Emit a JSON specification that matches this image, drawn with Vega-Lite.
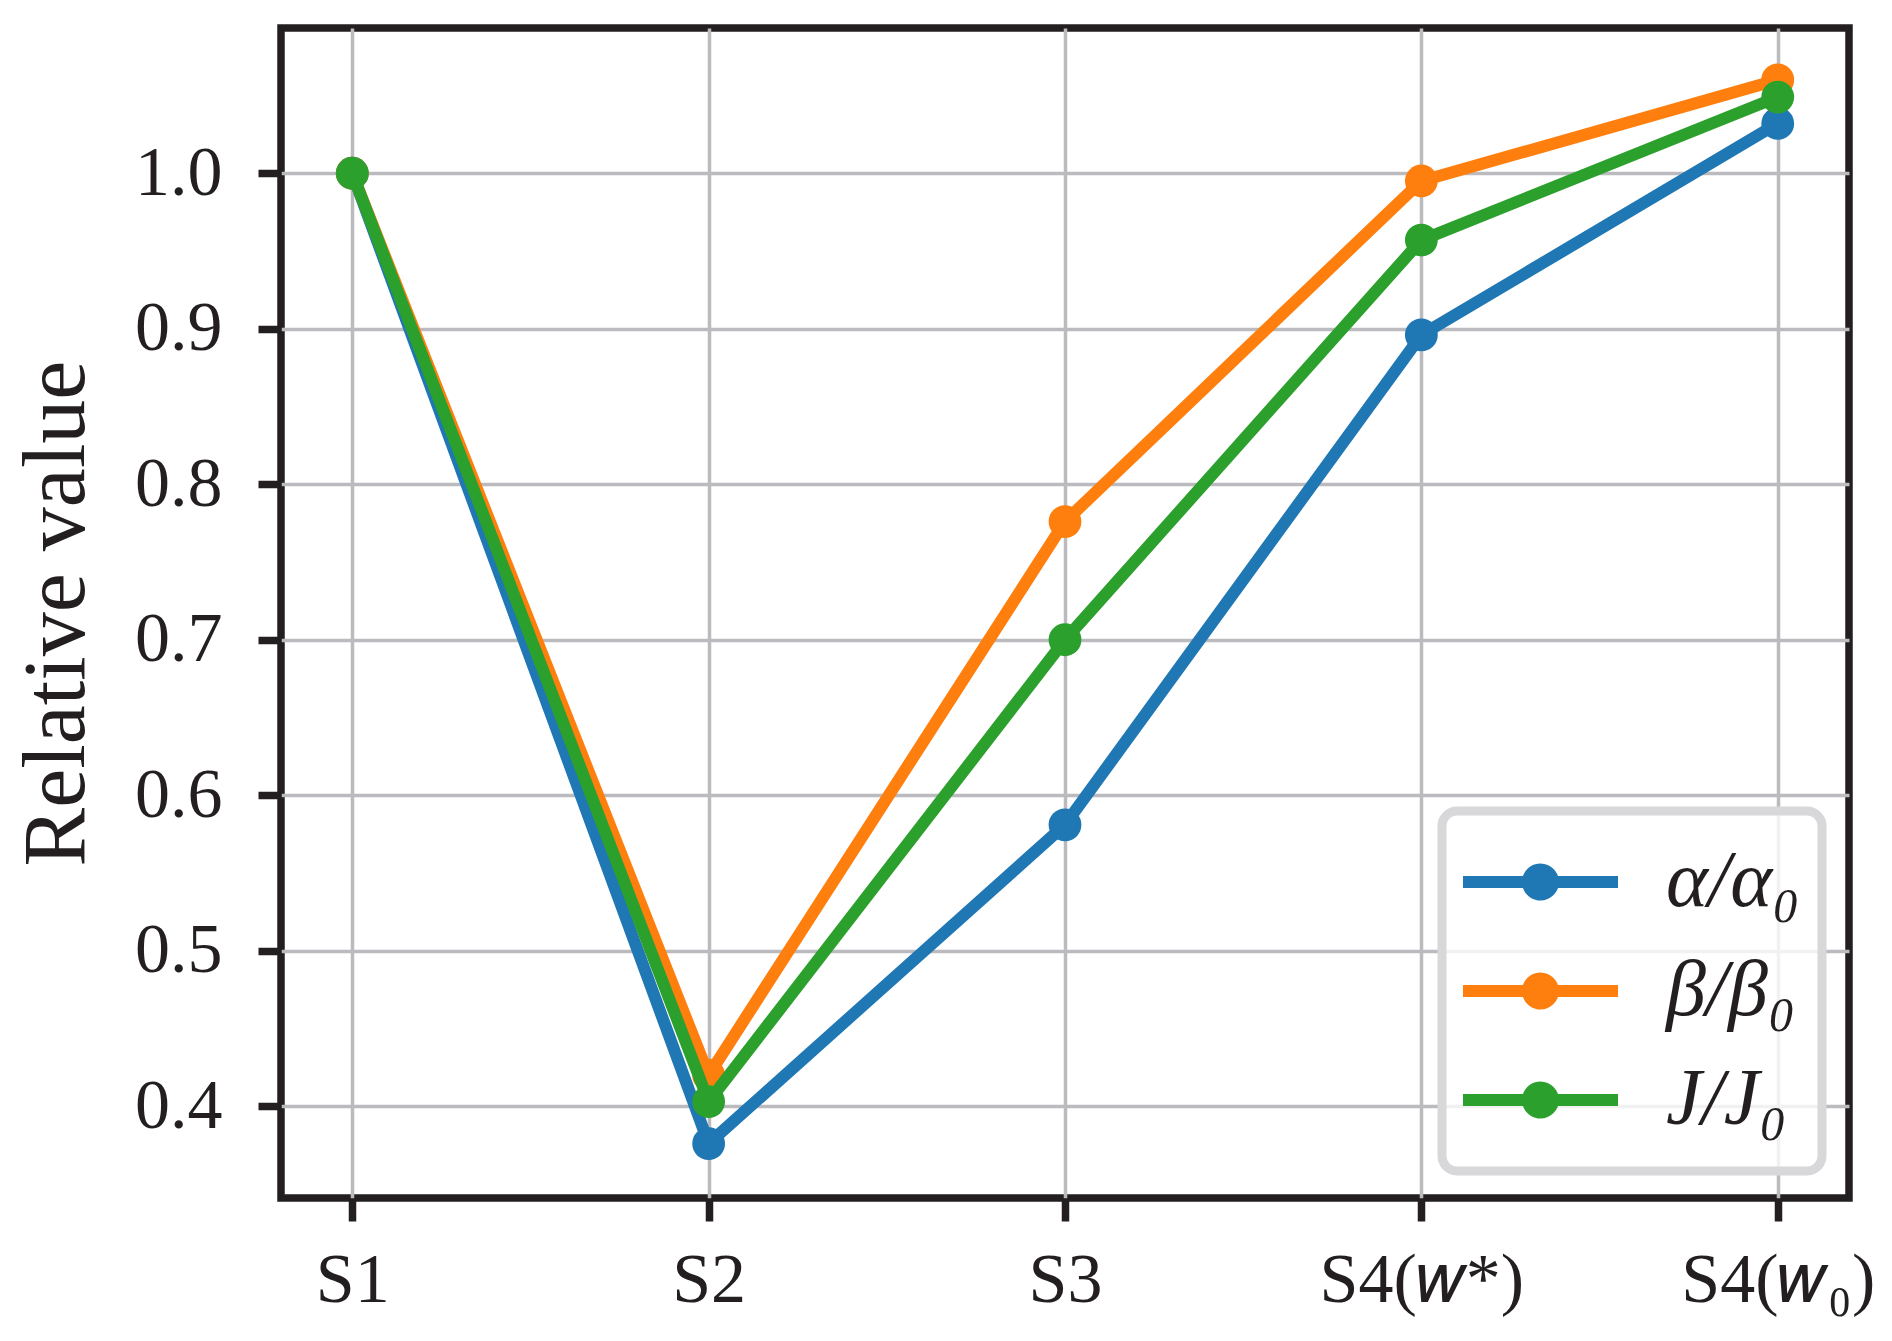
{
  "$schema": "https://vega.github.io/schema/vega-lite/v6.json",
  "width": 1568,
  "height": 1170,
  "autosize": {"type": "none"},
  "padding": {"left": 281, "top": 28, "right": 43, "bottom": 143},
  "background": "white",
  "config": {
    "view": {"stroke": "#231f20", "strokeWidth": 7.5},
    "font": "Liberation Serif",
    "axis": {
      "domain": false,
      "grid": true,
      "gridColor": "#bbbbbf",
      "gridWidth": 3.5,
      "ticks": true,
      "tickColor": "#231f20",
      "tickWidth": 7.5,
      "tickSize": 23,
      "labelFont": "Liberation Serif",
      "labelFontSize": 70,
      "labelColor": "#231f20",
      "titleFont": "Liberation Serif",
      "titleColor": "#231f20",
      "titleFontWeight": "normal"
    }
  },
  "data": {
    "values": [
      {"stage": "S1", "series": "α/α₀", "value": 1.0},
      {"stage": "S2", "series": "α/α₀", "value": 0.376},
      {"stage": "S3", "series": "α/α₀", "value": 0.581},
      {"stage": "S4(𝑤*)", "series": "α/α₀", "value": 0.896},
      {"stage": "S4(𝑤₀)", "series": "α/α₀", "value": 1.032},
      {"stage": "S1", "series": "β/β₀", "value": 1.0},
      {"stage": "S2", "series": "β/β₀", "value": 0.42},
      {"stage": "S3", "series": "β/β₀", "value": 0.776},
      {"stage": "S4(𝑤*)", "series": "β/β₀", "value": 0.995},
      {"stage": "S4(𝑤₀)", "series": "β/β₀", "value": 1.06},
      {"stage": "S1", "series": "J/J₀", "value": 1.0},
      {"stage": "S2", "series": "J/J₀", "value": 0.403},
      {"stage": "S3", "series": "J/J₀", "value": 0.7},
      {"stage": "S4(𝑤*)", "series": "J/J₀", "value": 0.957},
      {"stage": "S4(𝑤₀)", "series": "J/J₀", "value": 1.049}
    ]
  },
  "encoding": {
    "x": {
      "field": "stage",
      "type": "nominal",
      "sort": ["S1", "S2", "S3", "S4(𝑤*)", "S4(𝑤₀)"],
      "scale": {"type": "point", "padding": 0.2},
      "axis": {"title": null, "labelAngle": 0, "labelPadding": 25, "labelOverlap": false, "labelLimit": 400}
    },
    "y": {
      "field": "value",
      "type": "quantitative",
      "scale": {"domain": [0.341, 1.0934], "nice": false, "zero": false},
      "axis": {
        "title": "Relative value",
        "titleFontSize": 88,
        "titlePadding": 33,
        "values": [0.4, 0.5, 0.6, 0.7, 0.8, 0.9, 1.0],
        "format": ".1f",
        "labelPadding": 36
      }
    },
    "color": {
      "field": "series",
      "type": "nominal",
      "scale": {"domain": ["α/α₀", "β/β₀", "J/J₀"], "range": ["#1f77b4", "#ff7f0e", "#2ca02c"]},
      "legend": {
        "title": null,
        "orient": "bottom-right",
        "offset": 27,
        "padding": 21,
        "fillColor": "rgba(255,255,255,0.8)",
        "strokeColor": "#d8d8da",
        "cornerRadius": 15,
        "symbolType": "M -1 -0.077 L 1 -0.077 L 1 0.077 L -1 0.077 Z M 0.239 0 A 0.239 0.239 0 1 1 -0.239 0 A 0.239 0.239 0 1 1 0.239 0 Z",
        "symbolSize": 24025,
        "symbolStrokeWidth": 0,
        "labelFont": "Liberation Serif",
        "labelFontStyle": "italic",
        "labelFontSize": 80,
        "labelColor": "#231f20",
        "labelOffset": 48,
        "clipHeight": 100,
        "rowPadding": 9,
        "labelExpr": "datum.label + '\u00a0\u00a0\u00a0\u00a0'",
        "encode": {
          "legend": {
            "update": {"strokeWidth": {"value": 9}}
          },
          "symbols": {
            "update": {
              "fill": {"scale": "color", "field": "value"},
              "stroke": {"value": "transparent"},
              "opacity": {"value": 1}
            }
          }
        }
      }
    }
  },
  "layer": [
    {
      "transform": [{"filter": "datum.series === 'α/α₀'"}],
      "layer": [
        {"mark": {"type": "line", "strokeWidth": 12, "strokeJoin": "round", "strokeCap": "square"}},
        {"mark": {"type": "point", "filled": true, "size": 1075, "opacity": 1, "strokeWidth": 0}}
      ]
    },
    {
      "transform": [{"filter": "datum.series === 'β/β₀'"}],
      "layer": [
        {"mark": {"type": "line", "strokeWidth": 12, "strokeJoin": "round", "strokeCap": "square"}},
        {"mark": {"type": "point", "filled": true, "size": 1075, "opacity": 1, "strokeWidth": 0}}
      ]
    },
    {
      "transform": [{"filter": "datum.series === 'J/J₀'"}],
      "layer": [
        {"mark": {"type": "line", "strokeWidth": 12, "strokeJoin": "round", "strokeCap": "square"}},
        {"mark": {"type": "point", "filled": true, "size": 1075, "opacity": 1, "strokeWidth": 0}}
      ]
    }
  ]
}
